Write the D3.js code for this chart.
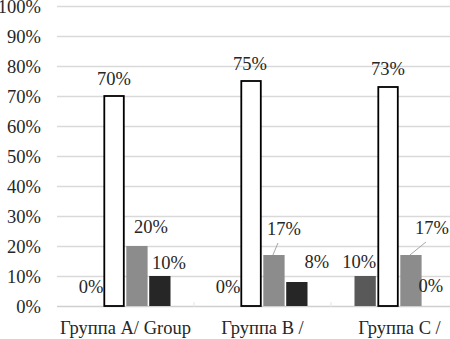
<!DOCTYPE html>
<html>
<head>
<meta charset="utf-8">
<script src="https://cdn.jsdelivr.net/npm/d3@7"></script>
<style>
  body { margin: 0; background: #fff; }
  text { font-family: 'Liberation Serif', 'Times New Roman', serif; font-size: 18.5px; fill: #262626; }
</style>
</head>
<body>
<div id="chart"></div>
<script>
const groups = ['Группа A/ Group', 'Группа B /', 'Группа C /']
const series = ['s1', 's2', 's3', 's4']
const values = [
  [0, 70, 20, 10],
  [0, 75, 17, 8],
  [10, 73, 17, 0]
]
const yTicks = [0, 10, 20, 30, 40, 50, 60, 70, 80, 90, 100]

// label nudges (dx, dy from bar top centre), per group, per series; true = leader line
const labelNudge = [
  [[0, -13], [0, -11], [14, -13], [9, -7]],
  [[0, -13], [-1, -11], [10, -20, true], [20, -14]],
  [[-6, -8], [0, -12], [21, -21, true], [-3, -14]]
]

const colors = ['#595959', '#ffffff', '#8c8c8c', '#262626']
const width = 450, height = 339
const margin = {top: 6, left: 57, bottom: 33}

const svg = d3.select('#chart').append('svg')
  .attr('width', width)
  .attr('height', height)

const y = d3.scaleLinear()
  .domain([0, 100])
  .range([height - margin.bottom, margin.top])
const x0 = d3.scaleBand()
  .domain(groups)
  .range([margin.left, 468])
  .paddingInner(0.343)
  .paddingOuter(0.1715)
const x1 = d3.scaleBand()
  .domain(series)
  .range([0, x0.bandwidth()])
  .paddingInner(0.07)
  .paddingOuter(0)

function label(x, baseline, txt, anchor) {
  svg.append('text')
    .attr('x', x)
    .attr('y', baseline)
    .attr('text-anchor', anchor)
    .text(txt)
}

// grid
svg.append('g')
  .selectAll('line')
  .data(yTicks)
  .enter().append('line')
  .attr('x1', margin.left)
  .attr('x2', width)
  .attr('y1', d => Math.round(y(d)) + 0.5)
  .attr('y2', d => Math.round(y(d)) + 0.5)
  .attr('stroke', d => d === 0 ? '#cfcfcf' : '#d9d9d9')
  .attr('stroke-width', 1.3)

// category separator ticks
const step = x0.step()
svg.append('g')
  .selectAll('line')
  .data(groups.slice(1))
  .enter().append('line')
  .attr('x1', d => x0(d) - step * 0.343 / 2)
  .attr('x2', d => x0(d) - step * 0.343 / 2)
  .attr('y1', y(0) - 4)
  .attr('y2', y(0) + 1)
  .attr('stroke', '#e3e3e3')

// y labels
yTicks.forEach(t => label(41, y(t) + 6.5, t + '%', 'end'))

// bars
const g = svg.append('g')
  .selectAll('g')
  .data(values)
  .enter().append('g')
  .attr('transform', (d, i) => `translate(${x0(groups[i])},0)`)

g.selectAll('rect')
  .data(d => d)
  .enter().append('rect')
  .attr('x', (d, j) => x1(series[j]) + (j === 1 ? 0.9 : 0))
  .attr('y', d => y(d))
  .attr('width', (d, j) => x1.bandwidth() - (j === 1 ? 1.8 : 0))
  .attr('height', d => y(0) - y(d))
  .attr('fill', (d, j) => colors[j])
  .attr('stroke', (d, j) => j === 1 ? '#000' : 'none')
  .attr('stroke-width', 1.8)

// value labels
values.forEach((row, i) => {
  row.forEach((v, j) => {
    const cx = x0(groups[i]) + x1(series[j]) + x1.bandwidth() / 2
    const top = y(v)
    const n = labelNudge[i][j]
    const lx = cx + n[0], ly = top + n[1]
    if (n[2]) {
      svg.append('line')
        .attr('x1', cx - 1)
        .attr('y1', top)
        .attr('x2', lx - 6)
        .attr('y2', ly + 8)
        .attr('stroke', '#a6a6a6')
        .attr('stroke-width', 1)
    }
    label(lx, ly, v + '%', 'middle')
  })
})

// category labels
groups.forEach(d => label(x0(d) + x0.bandwidth() / 2, 334, d, 'middle'))
</script>
</body>
</html>
